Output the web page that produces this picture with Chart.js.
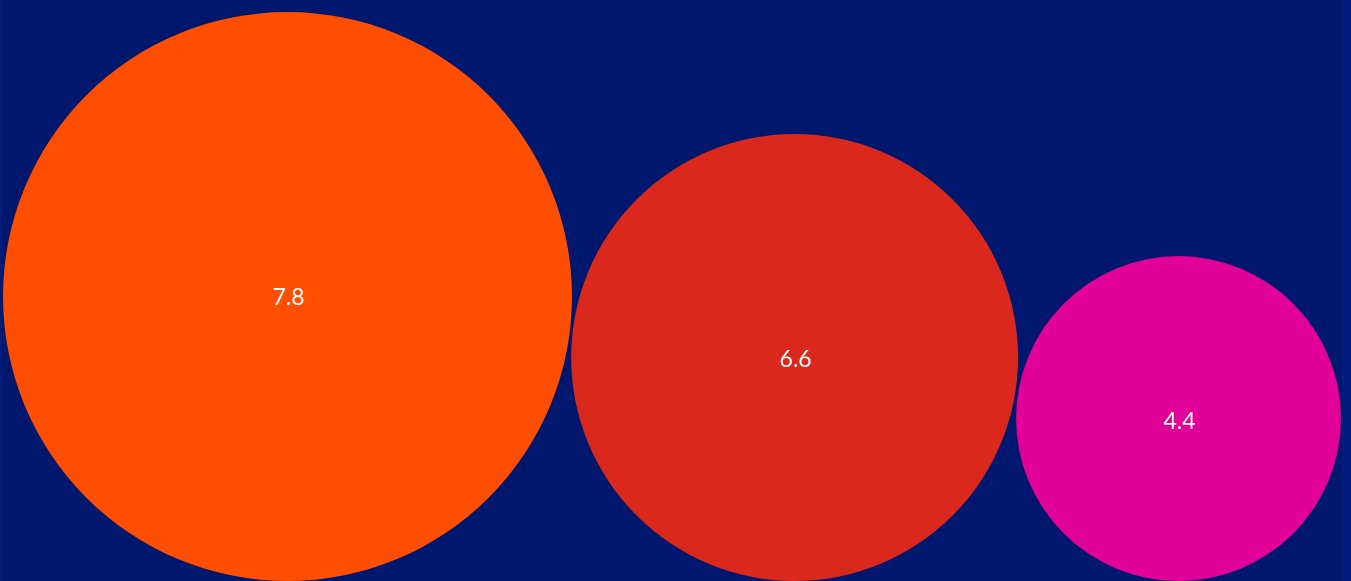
<!DOCTYPE html>
<html>
<head>
<meta charset="utf-8">
<script src="https://cdn.jsdelivr.net/npm/chart.js@4/dist/chart.umd.min.js"></script>
<style>
  html, body { margin: 0; padding: 0; background: #021c7c; }
  #wrap { position: relative; width: 1351px; height: 581px; background: #021c7c; overflow: hidden; }
  #panel { position: absolute; left: 2px; top: 0; width: 1340px; height: 581px; background: #00176e; }
  #chart { position: absolute; left: 0; top: 0; }
</style>
</head>
<body>
<div id="wrap">
  <div id="panel"></div>
  <canvas id="chart" width="1351" height="581"></canvas>
</div>
<script>
// values shown inside the bubbles, largest first
const values = [7.8, 6.6, 4.4];
const colors = ["#FF4E00", "#DA291C", "#E10098"];

// bubbles shrink by a fixed step per rank (largest radius = 1 unit)
const sizeStep = 0.2145;
const gap = 0.01;
const leftPad = 0.0105;
const headroom = 0.0422;

const W = 1351;
const H = 581;
const radii = values.map((v, i) => 1 - sizeStep * i);

const yMax = 2 * radii[0] + headroom;
const xMax = yMax * W / H;
const pxPerUnit = H / yMax; // same on both axes, chart area is the whole canvas

// pack bubbles left to right, sitting on the baseline, each touching the previous one
const points = [];
let cx = leftPad + radii[0];
radii.forEach((r, i) => {
  if (i > 0) cx += 2 * Math.sqrt(radii[i - 1] * r) + gap;
  points.push({ x: cx, y: r, r: r * pxPerUnit, value: values[i] });
});

const valueLabels = {
  id: "valueLabels",
  afterDatasetsDraw(chart) {
    const ctx = chart.ctx;
    const meta = chart.getDatasetMeta(0);
    ctx.save();
    ctx.fillStyle = "#ffffff";
    ctx.font = "23px Lato";
    ctx.textAlign = "center";
    ctx.textBaseline = "middle";
    meta.data.forEach((el, i) => {
      ctx.fillText(String(points[i].value), el.x + 1, el.y + 1 + i);
    });
    ctx.restore();
  },
};

const chart = new Chart(document.getElementById("chart").getContext("2d"), {
  type: "bubble",
  data: {
    datasets: [
      {
        data: points,
        backgroundColor: colors,
        borderWidth: 0,
        hoverBorderWidth: 0,
        clip: false,
      },
    ],
  },
  options: {
    responsive: false,
    animation: false,
    layout: { padding: 0, autoPadding: false },
    plugins: { legend: { display: false }, tooltip: { enabled: false } },
    scales: {
      x: { type: "linear", min: 0, max: xMax, display: false },
      y: { type: "linear", min: 0, max: yMax, display: false },
    },
  },
  plugins: [valueLabels],
});
</script>
</body>
</html>
